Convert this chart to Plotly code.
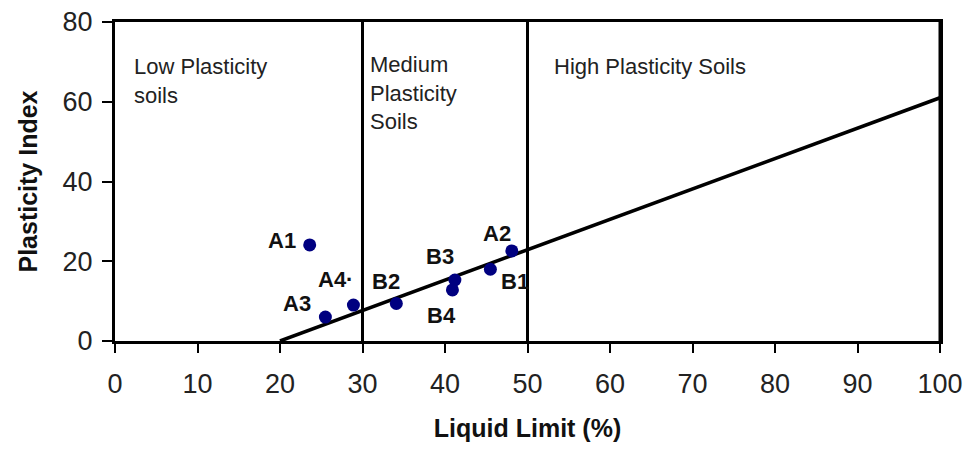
import plotly.graph_objects as go

# Data
sample_names = ["A1", "A2", "A3", "A4", "B1", "B2", "B3", "B4"]
liquid_limit = [23.6, 48.1, 25.5, 28.9, 45.5, 34.1, 41.2, 40.9]
plasticity_index = [24.1, 22.6, 6.0, 9.0, 18.0, 9.4, 15.3, 12.8]

label_x = [20.2, 46.3, 22.0, 26.7, 48.5, 32.9, 39.4, 39.6]
label_y = [25.1, 27.0, 9.3, 15.3, 14.9, 14.9, 21.1, 6.5]
label_text = ["A1", "A2", "A3", "A4·", "B1", "B2", "B3", "B4"]

a_line_x = [20, 100]
a_line_y = [0, 61]

boundaries = [30, 50, 100]

x_ticks = list(range(0, 101, 10))
y_ticks = [0, 20, 40, 60, 80]

zone_x = [2.1, 30.7, 53.0]
zone_y = [72.4, 73.0, 72.4]
zone_labels = ["Low Plasticity<br>soils", "Medium<br>Plasticity<br>Soils", "High Plasticity Soils"]

FONT = "Liberation Sans, Arial, sans-serif"

fig = go.Figure()

for b in boundaries:
    fig.add_trace(go.Scatter(x=[b, b], y=[0, 80], mode="lines",
                             line=dict(color="black", width=3),
                             showlegend=False, hoverinfo="skip"))

fig.add_trace(go.Scatter(x=a_line_x, y=a_line_y, mode="lines",
                         line=dict(color="black", width=3.5),
                         showlegend=False))

fig.add_trace(go.Scatter(x=liquid_limit, y=plasticity_index, mode="markers",
                         marker=dict(color="#000080", size=13),
                         showlegend=False))

for tx, ty, t in zip(label_x, label_y, label_text):
    fig.add_annotation(x=tx, y=ty, text="<b>" + t + "</b>", showarrow=False,
                       font=dict(family=FONT, size=22, color="#111"))

for zx, zy, zt in zip(zone_x, zone_y, zone_labels):
    fig.add_annotation(x=zx, y=zy, text=zt, showarrow=False, xanchor="left",
                       yanchor="top", align="left",
                       font=dict(family=FONT, size=22, color="#222"))

fig.update_layout(
    width=970, height=449,
    margin=dict(l=115, r=30, t=22, b=108),
    paper_bgcolor="white", plot_bgcolor="white",
    font=dict(family=FONT),
)
fig.update_xaxes(range=[0, 100], tickvals=x_ticks, showgrid=False, zeroline=False,
                 showline=True, linecolor="black", linewidth=3, mirror=True,
                 ticks="outside", ticklen=9, tickwidth=2, tickcolor="black",
                 ticklabelstandoff=8, automargin=False,
                 tickfont=dict(family=FONT, size=27, color="#222"),
                 title=dict(text="<b>Liquid Limit (%)</b>", standoff=22,
                            font=dict(family=FONT, size=25, color="#111")))
fig.update_yaxes(range=[0, 80], tickvals=y_ticks, showgrid=False, zeroline=False,
                 showline=True, linecolor="black", linewidth=3, mirror=True,
                 ticks="outside", ticklen=10, tickwidth=2, tickcolor="black",
                 ticklabelstandoff=4, automargin=False,
                 tickfont=dict(family=FONT, size=27, color="#222"),
                 title=dict(text="<b>Plasticity Index</b>", standoff=18,
                            font=dict(family=FONT, size=25, color="#111")))

fig.write_html("out.html")
